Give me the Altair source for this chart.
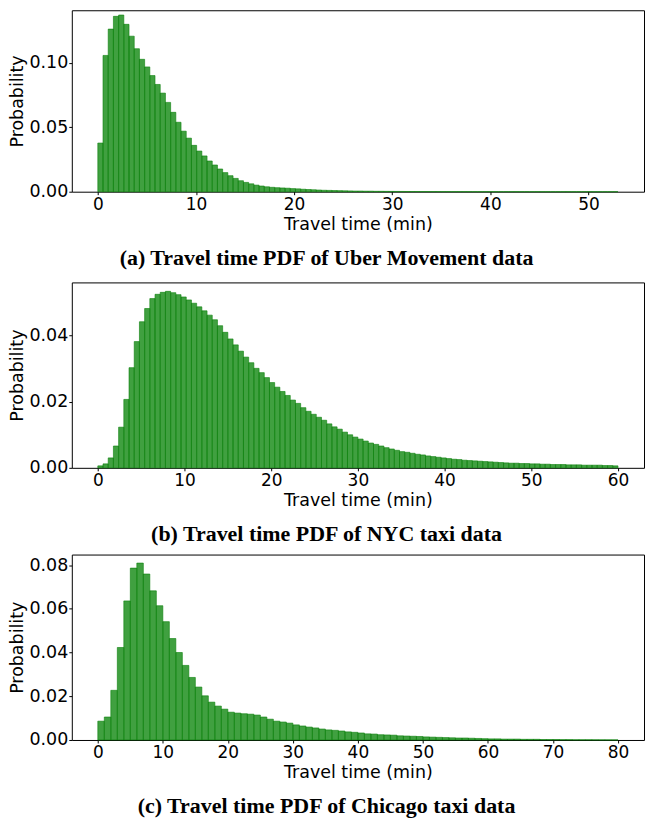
import altair as alt
import pandas as pd

# ---------------- data ----------------
uber_range = [0, 53]
uber_vals = [
    0.0377, 0.1056, 0.1260, 0.1359, 0.1369, 0.1297, 0.1205, 0.1108, 0.1026, 0.0967,
    0.0900, 0.0831, 0.0764, 0.0692, 0.0615, 0.0538, 0.0469, 0.0415, 0.0359, 0.0315,
    0.0277, 0.0238, 0.0207, 0.0176, 0.0148, 0.0124, 0.0103, 0.0085, 0.0072, 0.0061,
    0.0051, 0.0044, 0.0038, 0.0034, 0.0031, 0.0029, 0.0027, 0.0024, 0.0022, 0.0019,
    0.0017, 0.0015, 0.0013, 0.0011, 0.0010, 0.0009, 0.0008, 0.0007, 0.0006, 0.0005,
    0.0005, 0.0004, 0.0004, 0.0003, 0.0003, 0.00025, 0.00023, 0.0002, 0.00018, 0.00016,
    0.00015, 0.00013, 0.00012, 0.00011, 0.0001, 0.00009, 0.00008, 0.00008, 0.00007, 0.00007,
    0.00006, 0.00006, 0.00005, 0.00005, 0.00005, 0.00004, 0.00004, 0.00004, 0.00004, 0.00004,
    0.00004, 0.00004, 0.00004, 0.00004, 0.00004, 0.00003, 0.00003, 0.00003, 0.00003, 0.00003,
    0.00003, 0.00003, 0.00003, 0.00003, 0.00003, 0.00002, 0.00002, 0.00002, 0.00002, 0.00002,
]

nyc_range = [0, 60]
nyc_vals = [
    0.0006, 0.0012, 0.0030, 0.0066, 0.0123, 0.0207, 0.0303, 0.0382, 0.0442, 0.0482,
    0.0512, 0.0525, 0.0531, 0.0534, 0.0530, 0.0524, 0.0517, 0.0508, 0.0498, 0.0487,
    0.0475, 0.0462, 0.0448, 0.0430, 0.0410, 0.0390, 0.0372, 0.0353, 0.0335, 0.0318,
    0.0301, 0.0288, 0.0273, 0.0258, 0.0244, 0.0231, 0.0219, 0.0205, 0.0195, 0.0182,
    0.0171, 0.0162, 0.0153, 0.0144, 0.0133, 0.0124, 0.0117, 0.0108, 0.0100, 0.0093,
    0.0087, 0.0081, 0.0075, 0.0071, 0.0066, 0.0061, 0.0057, 0.0053, 0.0049, 0.0047,
    0.0044, 0.0041, 0.0039, 0.0036, 0.0034, 0.0032, 0.0030, 0.0028, 0.0026, 0.0025,
    0.0023, 0.0022, 0.0021, 0.0020, 0.0019, 0.0018, 0.0017, 0.0016, 0.0015, 0.0014,
    0.0014, 0.0013, 0.0013, 0.0012, 0.0012, 0.0011, 0.0011, 0.0010, 0.0010, 0.0010,
    0.0009, 0.0009, 0.0009, 0.0008, 0.0008, 0.0008, 0.0008, 0.0007, 0.0007, 0.0006,
]

chicago_range = [0, 80]
chicago_vals = [
    0.0086, 0.0105, 0.0227, 0.0423, 0.0636, 0.0786, 0.0809, 0.0759, 0.0682, 0.0614,
    0.0541, 0.0464, 0.0400, 0.0341, 0.0286, 0.0242, 0.0202, 0.0173, 0.0155, 0.0141,
    0.0127, 0.0123, 0.0120, 0.0118, 0.0114, 0.0105, 0.0095, 0.0086, 0.0082, 0.0077,
    0.0069, 0.0064, 0.0059, 0.0055, 0.0050, 0.0046, 0.0044, 0.0041, 0.0037, 0.0035,
    0.0032, 0.0028, 0.0027, 0.0024, 0.0023, 0.0022, 0.0019, 0.0018, 0.0017, 0.0016,
    0.0014, 0.0013, 0.0012, 0.0011, 0.0010, 0.0009, 0.0009, 0.0008, 0.0007, 0.0006,
    0.0005, 0.0005, 0.0004, 0.0004, 0.0004, 0.0003, 0.0003, 0.0003, 0.0002, 0.0002,
    0.0002, 0.00015, 0.00015, 0.0001, 0.0001, 0.0001, 0.00008, 0.00006, 0.00005, 0.00004,
]

uber_xticks = [0, 10, 20, 30, 40, 50]
nyc_xticks = [0, 10, 20, 30, 40, 50, 60]
chicago_xticks = [0, 10, 20, 30, 40, 50, 60, 70, 80]
uber_yticks = [0.0, 0.05, 0.10]
nyc_yticks = [0.0, 0.02, 0.04]
chicago_yticks = [0.0, 0.02, 0.04, 0.06, 0.08]

captions = [
    "(a) Travel time PDF of Uber Movement data",
    "(b) Travel time PDF of NYC taxi data",
    "(c) Travel time PDF of Chicago taxi data",
]
x_title = "Travel time (min)"
y_title = "Probability"

FS = 17.5


def panel(vals, rng, xdomain, xticks, ydomain, yticks, caption, height):
    n = len(vals)
    w = (rng[1] - rng[0]) / n
    df = pd.DataFrame({
        "start": [rng[0] + i * w for i in range(n)],
        "end": [rng[0] + (i + 1) * w for i in range(n)],
        "p": vals,
    })
    return alt.Chart(df).mark_bar(
        fill="#008000", fillOpacity=0.75, stroke="#0a7f0a", strokeWidth=0.6
    ).encode(
        x=alt.X("start:Q", scale=alt.Scale(domain=xdomain, nice=False, zero=False),
                axis=alt.Axis(values=xticks, format="d", title=x_title)),
        x2="end:Q",
        y=alt.Y("p:Q", scale=alt.Scale(domain=ydomain, nice=False, zero=False),
                axis=alt.Axis(values=yticks, format=".2f", title=y_title)),
        y2=alt.datum(0),
    ).properties(
        width=574, height=height,
        title=alt.TitleParams(caption, orient="bottom", anchor="middle", frame="bounds",
                              font="Liberation Serif", fontWeight="bold", fontSize=22,
                              color="black", offset=15.5),
    )


a = panel(uber_vals, uber_range, [-2.65, 55.65], uber_xticks, [0, 0.1406], uber_yticks, captions[0], 182)
b = panel(nyc_vals, nyc_range, [-3, 63], nyc_xticks, [0, 0.0561], nyc_yticks, captions[1], 186)
c = panel(chicago_vals, chicago_range, [-4, 84], chicago_xticks, [0, 0.0848], chicago_yticks, captions[2], 186)

top_pair = alt.vconcat(a, b, spacing=12)
chart = alt.vconcat(top_pair, c, spacing=8).properties(
    padding={"left": 0, "top": 0, "right": 0, "bottom": 0}
).configure_view(
    stroke="black", strokeWidth=1
).configure_axis(
    domain=False, grid=False, ticks=True, tickColor="black", tickSize=3, tickWidth=1,
    labelFont="DejaVu Sans", labelFontSize=FS, labelColor="black",
    titleFont="DejaVu Sans", titleFontSize=FS, titleFontWeight="normal", titleColor="black",
).configure_axisX(labelFontSize=17, labelPadding=2, titleY=23.5).configure_axisY(labelPadding=1, titlePadding=2)

chart.save("out.html", embed_options={"renderer": "svg", "actions": False})
